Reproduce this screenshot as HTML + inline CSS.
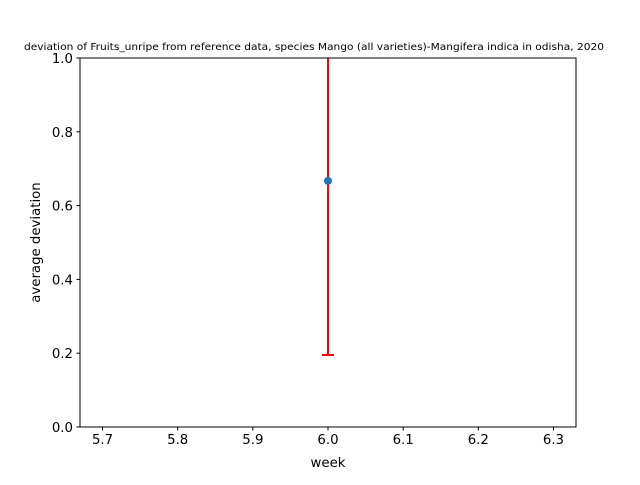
<!DOCTYPE html>
<html><head><meta charset="utf-8"><style>
body{margin:0;background:#fff;}
svg{font-family:"DejaVu Sans","Liberation Sans",sans-serif;}
</style></head><body>
<svg id="chart" width="640" height="480">
<rect width="640" height="480" fill="#fff"/>
<text x="24" y="50" font-size="10" textLength="580" lengthAdjust="spacingAndGlyphs">deviation of Fruits_unripe from reference data, species Mango (all varieties)-Mangifera indica in odisha, 2020</text>
<g id="xticks"></g><g id="yticks"></g>
<g id="marks"></g>
<rect x="80" y="58" width="496" height="369" fill="none" stroke="#000" stroke-width="1"/>
<text x="328" y="467" font-size="13.3" text-anchor="middle">week</text>
<text transform="translate(40,242.5) rotate(-90)" font-size="13.3" text-anchor="middle">average deviation</text>
</svg>
<script>
const weeks=[6.0];
const means=[0.667];
const errLow=[0.472];
const errHigh=[0.472];
const xTickLabels=["5.7","5.8","5.9","6.0","6.1","6.2","6.3"];
const yTickLabels=["0.0","0.2","0.4","0.6","0.8","1.0"];
const NS="http://www.w3.org/2000/svg";
const X0=80,X1=576,Y0=427,Y1=58,xmin=5.67,xmax=6.33,ymin=0,ymax=1;
function sx(v){return X0+(v-xmin)/(xmax-xmin)*(X1-X0);}
function sy(v){return Y0-(v-ymin)/(ymax-ymin)*(Y0-Y1);}
function mk(t,a,p){const e=document.createElementNS(NS,t);for(const k in a)e.setAttribute(k,a[k]);p.appendChild(e);return e;}
const xt=document.getElementById('xticks'),yt=document.getElementById('yticks'),mg=document.getElementById('marks');
xTickLabels.forEach(l=>{const x=sx(parseFloat(l));
const ln=mk('line',{x1:x,x2:x,y1:Y0,y2:Y0+3.5,stroke:'#000'},xt);


const t=mk('text',{x:x,y:Y0+17,'font-size':13.3,'text-anchor':'middle'},xt);t.textContent=l;

});
yTickLabels.forEach(l=>{const y=sy(parseFloat(l));
const ln=mk('line',{x1:X0-3.5,x2:X0,y1:y,y2:y,stroke:'#000'},yt);


const t=mk('text',{x:X0-7,y:y+5,'font-size':13.3,'text-anchor':'end'},yt);t.textContent=l;

});
const clip=mk('clipPath',{id:'pc'},mk('defs',{},mg));mk('rect',{x:X0,y:Y1,width:X1-X0,height:Y0-Y1},clip);
const g=mk('g',{'clip-path':'url(#pc)'},mg);
weeks.forEach((w,i)=>{const x=sx(w),lo=sy(means[i]-errLow[i]),hi=sy(means[i]+errHigh[i]);
const eb=mk('line',{x1:x,x2:x,y1:lo,y2:hi,stroke:'#ff0000','stroke-width':2},g);


[lo,hi].forEach(y=>{const c=mk('line',{x1:x-6,x2:x+6,y1:y,y2:y,stroke:'#ff0000','stroke-width':2},g);

});
const p=mk('circle',{cx:x,cy:sy(means[i]),r:4,fill:'#1f77b4'},g);

});
</script>
</body></html>
